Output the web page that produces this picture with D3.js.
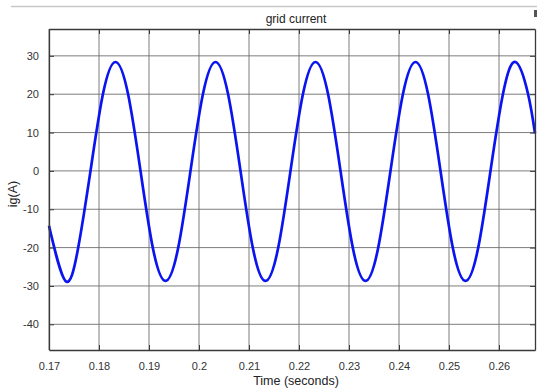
<!DOCTYPE html>
<html>
<head>
<meta charset="utf-8">
<script src="https://cdn.jsdelivr.net/npm/d3@7"></script>
<style>
  body { margin: 0; background: #fff; }
  text { font-family: "Liberation Sans", Arial, sans-serif; }
</style>
</head>
<body>
<div id="chart"></div>
<script>
// samples (time in s, current in A)
const times = [0.1700, 0.1733, 0.1758, 0.1783, 0.1808, 0.1833, 0.1858, 0.1883, 0.1908,
               0.1933, 0.1958, 0.1983, 0.2008, 0.2033, 0.2058, 0.2083, 0.2108,
               0.2133, 0.2158, 0.2183, 0.2208, 0.2233, 0.2258, 0.2283, 0.2308,
               0.2333, 0.2358, 0.2383, 0.2408, 0.2433, 0.2458, 0.2483, 0.2508,
               0.2533, 0.2558, 0.2583, 0.2608, 0.2633, 0.2658, 0.2672];
const current = [-14.3, -28.7, -20.3, 0, 20.1, 28.4, 20.1, 0, -20.3,
                 -28.7, -20.3, 0, 20.1, 28.4, 20.1, 0, -20.3,
                 -28.7, -20.3, 0, 20.1, 28.4, 20.1, 0, -20.3,
                 -28.7, -20.3, 0, 20.1, 28.4, 20.1, 0, -20.3,
                 -28.7, -20.3, 0, 20.1, 28.4, 20.1, 9.8];
const xTicks = [0.17, 0.18, 0.19, 0.2, 0.21, 0.22, 0.23, 0.24, 0.25, 0.26];
const yTicks = [-40, -30, -20, -10, 0, 10, 20, 30];

const width = 537, height = 389;
const margin = {top: 29, right: 2, bottom: 39, left: 49};
const iw = width - margin.left - margin.right;
const ih = height - margin.top - margin.bottom;

const svg = d3.select('#chart').append('svg')
    .attr('width', width)
    .attr('height', height);

// thin figure-window line on top
svg.append('line')
    .attr('x1', 11).attr('x2', width).attr('y1', 6.5).attr('y2', 6.5)
    .attr('stroke', '#c8c8c8').attr('stroke-width', 1.5);
svg.append('rect')
    .attr('x', 534).attr('y', 10).attr('width', 3).attr('height', 7)
    .attr('fill', '#555');

const x = d3.scaleLinear().domain([0.17, 0.2672]).range([0, iw]);
const y = d3.scaleLinear().domain([-46.7, 37]).range([ih, 0]);

const g = svg.append('g').attr('transform', `translate(${margin.left},${margin.top})`);

// grid
g.append('g').selectAll('line').data(xTicks).join('line')
    .attr('x1', d => x(d)).attr('x2', d => x(d))
    .attr('y1', 0).attr('y2', ih)
    .attr('stroke', '#6e6e6e').attr('stroke-width', 0.9);
g.append('g').selectAll('line').data(yTicks).join('line')
    .attr('x1', 0).attr('x2', iw)
    .attr('y1', d => y(d)).attr('y2', d => y(d))
    .attr('stroke', '#6e6e6e').attr('stroke-width', 0.9);

// waveform
const pts = times.map((t, i) => [t, current[i]]);
g.append('path')
    .datum(pts)
    .attr('fill', 'none')
    .attr('stroke', '#0a14f0')
    .attr('stroke-width', 2.7)
    .attr('stroke-linejoin', 'round')
    .attr('d', d3.line().x(d => x(d[0])).y(d => y(d[1])).curve(d3.curveNatural));

// axes, ticks point inward
const fmt = d => String(d);
const xAxis = d3.axisBottom(x).tickValues(xTicks).tickFormat(fmt).tickSizeInner(-5).tickSizeOuter(0).tickPadding(12);
const yAxis = d3.axisLeft(y).tickValues(yTicks).tickFormat(fmt).tickSizeInner(-5).tickSizeOuter(0).tickPadding(10);
const xTop = d3.axisTop(x).tickValues(xTicks).tickFormat('').tickSizeInner(-5).tickSizeOuter(0);
const yRight = d3.axisRight(y).tickValues(yTicks).tickFormat('').tickSizeInner(-5).tickSizeOuter(0);

[g.append('g').attr('transform', `translate(0,${ih})`).call(xAxis),
 g.append('g').call(yAxis),
 g.append('g').call(xTop),
 g.append('g').attr('transform', `translate(${iw},0)`).call(yRight)
].forEach(a => {
  a.select('.domain').attr('stroke', '#3a3a3a').attr('stroke-width', 1.3);
  a.selectAll('.tick line').attr('stroke', '#3a3a3a');
  a.selectAll('.tick text').attr('fill', '#333').attr('font-size', 11)
    .attr('font-family', '"Liberation Sans", Arial, sans-serif');
});

// labels
svg.append('text')
    .attr('x', margin.left + iw / 2 + 4).attr('y', 23)
    .attr('text-anchor', 'middle').attr('font-size', 12).attr('fill', '#222')
    .text('grid current');
svg.append('text')
    .attr('x', margin.left + iw / 2 + 4).attr('y', 385)
    .attr('text-anchor', 'middle').attr('font-size', 12.5).attr('fill', '#222')
    .text('Time (seconds)');
svg.append('text')
    .attr('transform', 'translate(17,194) rotate(-90)')
    .attr('text-anchor', 'middle').attr('font-size', 12.5).attr('fill', '#222')
    .text('ig(A)');
</script>
</body>
</html>
